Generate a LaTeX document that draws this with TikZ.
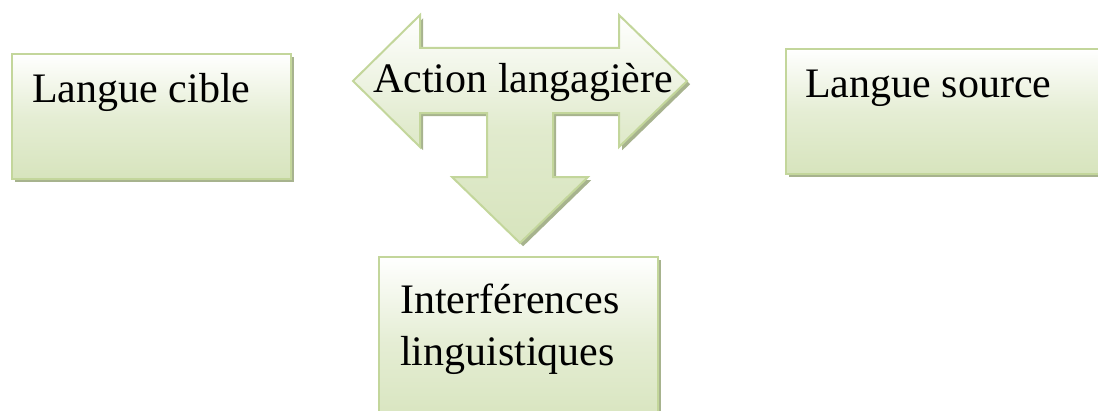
\documentclass[tikz,border=0pt]{standalone}
\usepackage{fontspec}
\setmainfont{Liberation Serif}
\definecolor{edgeg}{HTML}{C3D69B}
\definecolor{fillg}{HTML}{D7E4BD}
\definecolor{shdg}{HTML}{A7B38E}
\begin{document}
\begin{tikzpicture}[x=0.75pt,y=-0.75pt,
  shd/.style={preaction={fill=shdg, transform canvas={xshift=2.4pt,yshift=-2.4pt}}},
  box/.style={rectangle, draw=edgeg, line width=1.5pt, top color=white, bottom color=fillg, middle color=fillg!65, shd, inner sep=0pt, anchor=north west},
  lbl/.style={font=\fontsize{31.5}{39}\selectfont, inner sep=0pt, anchor=base west}]
\useasboundingbox (0,0) rectangle (1098,410);
\begin{scope}
\clip (0,0) rectangle (1098,410);
% boxes
\node[box, minimum width=279*0.75pt, minimum height=125*0.75pt] (cible) at (11,53) {};
\node[box, minimum width=340*0.75pt, minimum height=125*0.75pt] (source) at (785,48) {};
\node[box, minimum width=279*0.75pt, minimum height=170*0.75pt] (interf) at (378,256) {};
% arrow shape
\path[shd, draw=edgeg, line width=1.5pt, line join=miter, top color=white, bottom color=fillg, middle color=fillg!75]
  (353,81) -- (420,15) -- (420,48) -- (619,48) -- (619,15) -- (687,81) -- (619,147)
  -- (619,113) -- (553,113) -- (553,177) -- (588,177) -- (520,243) -- (452,177)
  -- (487,177) -- (487,113) -- (420,113) -- (420,147) -- cycle;
\end{scope}
% texts
\node[lbl] (tcible) at (32,103) {Langue cible};
\node[lbl] (tsource) at (805,97) {Langue source};
\node[lbl] (taction) at (373,93) {Action langagière};
\node[lbl] (tinterf1) at (400,313) {Interférences};
\node[lbl] (tinterf2) at (400,365) {linguistiques};
\end{tikzpicture}
\end{document}
